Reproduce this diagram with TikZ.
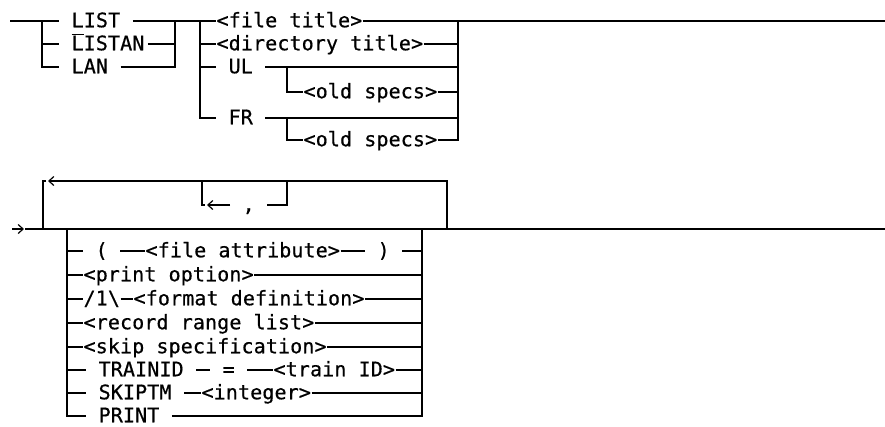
\documentclass[tikz,border=0pt]{standalone}
\usepackage{fontspec}
\usepackage{tikz}
\usetikzlibrary{arrows.meta}
\newfontfamily\syntaxfont{DejaVu Sans Mono}[LetterSpace=0.6,FakeBold=0.6]
\newcommand{\syntaxtext}{\syntaxfont\fontsize{20}{23}\selectfont}
\newcommand{\gap}{\hphantom{x}}

\begin{document}
\begin{tikzpicture}[x=1pt,y=-1pt,line width=1.2pt,>={Straight Barb[length=5pt,width=9pt]}]
% Stili
\tikzstyle{cell} = [
    anchor=west,
    inner sep=0pt,
    text height=12.5pt,
    text depth=0pt,
    font=\syntaxtext
]

\useasboundingbox (0,0) rectangle (885,426);

% Nodi, parte alta
\node[cell] (list) at (59,21) {\gap LIST\gap};
\node[cell] (listan) at (59,44) {\gap\(\overline{\hbox{L}}\)ISTAN\hbox to 3pt{}};
\node[cell] (lan) at (59,67) {\gap LAN\gap};

\node[cell] (file) at (216,21) {<file title>};
\node[cell] (dir) at (216,44) {<directory title>};
\node[cell] (ul) at (216,67) {\gap UL\gap};
\node[cell] (ulold) at (303,92) {<old specs>};
\node[cell] (fr) at (216,118) {\gap FR\gap};
\node[cell] (frold) at (303,140) {<old specs>};

\coordinate (start) at (10,21);
\coordinate (j1) at (42,21);
\coordinate (j2) at (175,21);
\coordinate (j3) at (200,21);
\coordinate (j4) at (458,21);
\coordinate (ju) at (287,67);
\coordinate (jf) at (287,118);
\coordinate (end) at (885,21);

% Archi, parte alta
\draw (start) -- (list.west);
\draw (j1) |- (listan.west);
\draw (j1) |- (lan.west);
\draw (list.east) -- (file.west);
\draw (listan.east) -| (j2);
\draw (lan.east) -| (j2);

\draw (j3) |- (dir.west);
\draw (j3) |- (ul.west);
\draw (j3) |- (fr.west);
\draw (file.east) -- (end);
\draw (dir.east) -- (dir.east -| j4);
\draw (ul.east) -- (ul.east -| j4);
\draw (ju) |- (ulold.west);
\draw (ulold.east) -| (j4);
\draw (fr.east) -- (fr.east -| j4);
\draw (jf) |- (frold.west);
\draw (frold.east) -| (j4);

% Nodi, parte bassa
\node[cell] (comma) at (230,205) {\gap,\gap};

\node[cell] (lpar) at (83,251) {\gap(\gap};
\node[cell] (attr) at (145,251) {<file attribute>};
\node[cell] (rpar) at (365,251) {\gap)\gap};
\node[cell] (popt) at (83,275) {<print option>};
\node[cell] (slash) at (83,299) {/1\textbackslash};
\node[cell] (fmt) at (133,299) {<format definition>};
\node[cell] (range) at (83,323) {<record range list>};
\node[cell] (skip) at (83,347) {<skip specification>};
\node[cell] (train) at (86,370) {\gap TRAINID\gap};
\node[cell] (eq) at (210,370) {\gap=\gap};
\node[cell] (tid) at (273,370) {<train ID>};
\node[cell] (skiptm) at (86,393) {\gap SKIPTM\gap};
\node[cell] (int) at (201,393) {<integer>};
\node[cell] (print) at (86,416) {\gap PRINT\gap};

\coordinate (a0) at (12,229);
\coordinate (a1) at (24,229);
\coordinate (b0) at (25,229);
\coordinate (b1) at (885,229);
\coordinate (lp1) at (43,229);
\coordinate (lp2) at (447,229);
\coordinate (lptip) at (48,181);
\coordinate (lpstub) at (46,181);
\coordinate (ip1) at (202,181);
\coordinate (ip2) at (287,181);
\coordinate (iptip) at (207,205);
\coordinate (ipstub) at (205,205);
\coordinate (ob1) at (67,229);
\coordinate (ob2) at (422,229);

% Archi, parte bassa
\draw[->] (a0) -- (a1);
\draw (b0) -- (b1);
\draw[->] (lp2) |- (lptip);
\draw (lpstub) -| (lp1);
\draw (ip2) |- (comma.east);
\draw[->] (comma.west) -- (iptip);
\draw (ip1) |- (ipstub);

\draw (ob1) |- (lpar.west);
\draw (lpar.east) -- (attr.west);
\draw (attr.east) -- (rpar.west);
\draw (rpar.east) -| (ob2);

\draw (ob1) |- (popt.west);
\draw (popt.east) -| (ob2);

\draw (ob1) |- (slash.west);
\draw (slash.east) -- (fmt.west);
\draw (fmt.east) -| (ob2);

\draw (ob1) |- (range.west);
\draw (range.east) -| (ob2);

\draw (ob1) |- (skip.west);
\draw (skip.east) -| (ob2);

\draw (ob1) |- (train.west);
\draw (train.east) -- (eq.west);
\draw (eq.east) -- (tid.west);
\draw (tid.east) -| (ob2);

\draw (ob1) |- (skiptm.west);
\draw (skiptm.east) -- (int.west);
\draw (int.east) -| (ob2);

\draw (ob1) |- (print.west);
\draw (print.east) -| (ob2);

\end{tikzpicture}
\end{document}
